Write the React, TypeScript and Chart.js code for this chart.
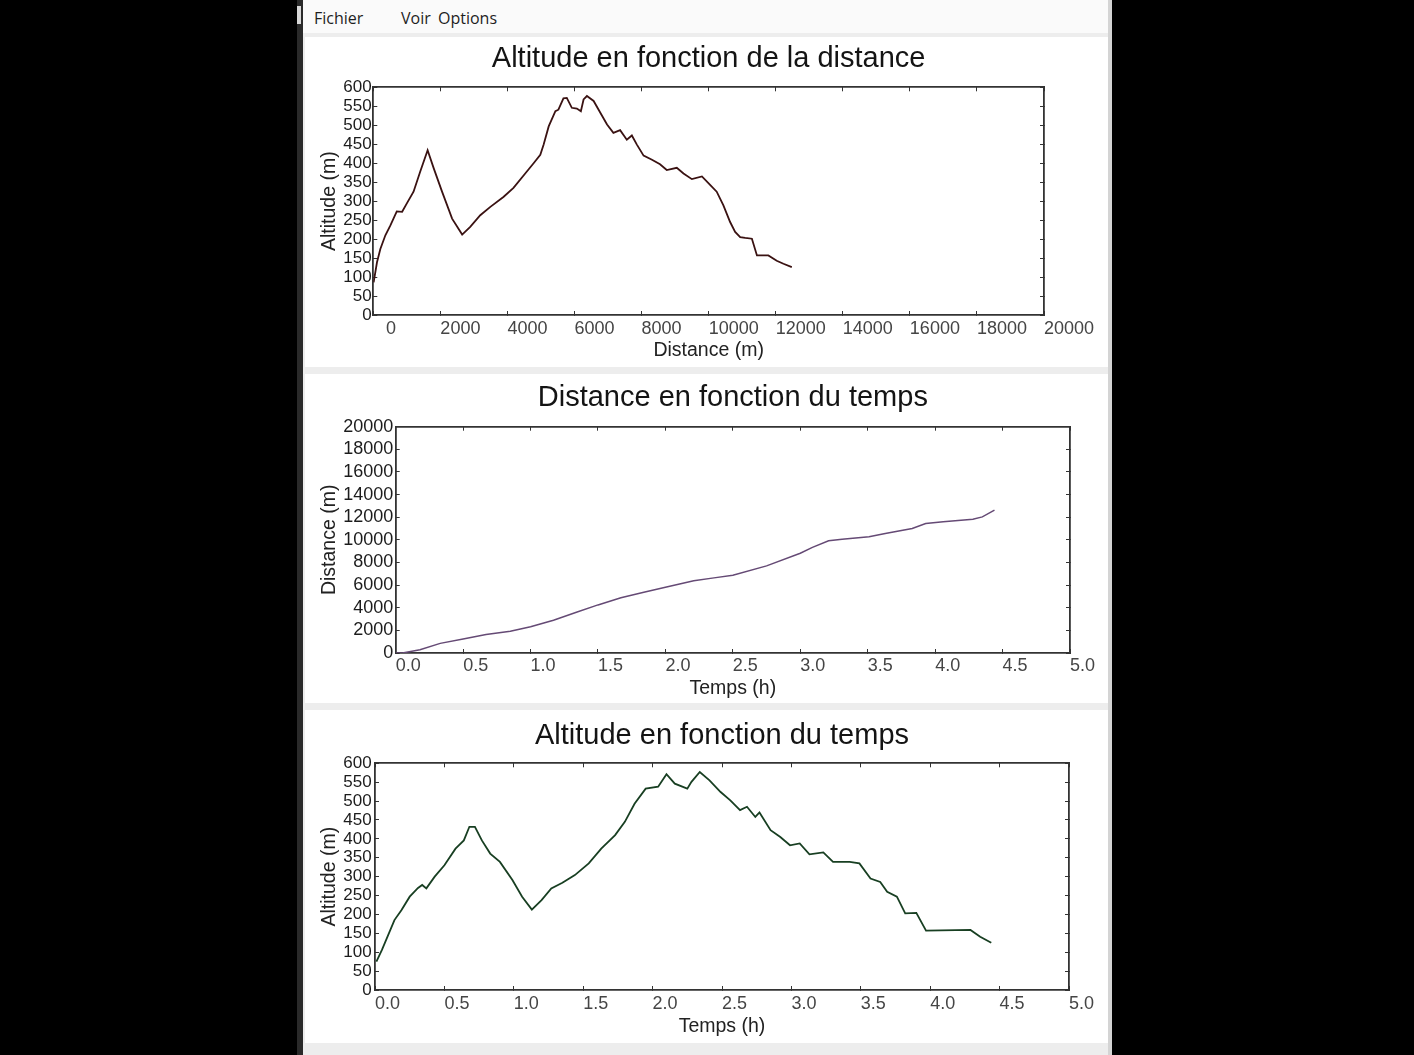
import React, { useEffect, useRef } from 'react';
import { Chart, registerables } from 'chart.js';

Chart.register(...registerables);

const FONT = '"Liberation Sans", Arial, Helvetica, sans-serif';

// ---------- Chart 1 : Altitude en fonction de la distance ----------
const distance1 = [10, 110, 210, 360, 510, 700, 860, 1000, 1200, 1400, 1620, 1800, 2050, 2350, 2650, 2890, 3190, 3490, 3880, 4180, 4530, 4780, 4980, 5080, 5230, 5430, 5520, 5670, 5770, 5920, 6070, 6190, 6270, 6370, 6570, 6770, 6970, 7160, 7360, 7560, 7710, 7860, 8060, 8310, 8550, 8750, 9050, 9250, 9500, 9800, 10000, 10240, 10440, 10640, 10790, 10940, 11090, 11290, 11440, 11780, 12030, 12230, 12480];
const altitude1 = [86, 139, 174, 210, 236, 273, 272, 294, 325, 378, 434, 387, 325, 254, 212, 232, 263, 285, 311, 335, 373, 400, 422, 449, 497, 537, 541, 571, 572, 546, 544, 537, 568, 577, 564, 533, 502, 480, 487, 462, 473, 449, 420, 409, 397, 382, 388, 373, 358, 365, 347, 325, 289, 245, 219, 205, 203, 201, 157, 157, 143, 135, 126];
const distanceTickLabels1 = ['\u2002\u20090', '2000', '4000', '6000', '8000', '10000', '12000', '14000', '16000', '18000', '20000'];

// ---------- Chart 2 : Distance en fonction du temps ----------
const time2 = [0.0, 0.05, 0.18, 0.33, 0.5, 0.67, 0.85, 1.0, 1.17, 1.34, 1.5, 1.67, 1.84, 2.0, 2.21, 2.36, 2.5, 2.75, 3.0, 3.09, 3.21, 3.31, 3.51, 3.63, 3.83, 3.93, 4.06, 4.28, 4.35, 4.44];
const distance2 = [0, 0, 290, 850, 1230, 1630, 1920, 2320, 2900, 3600, 4250, 4880, 5370, 5820, 6380, 6640, 6870, 7700, 8820, 9330, 9920, 10050, 10270, 10570, 11000, 11440, 11600, 11820, 12030, 12620];

// ---------- Chart 3 : Altitude en fonction du temps ----------
const time3 = [0.01, 0.05, 0.1, 0.14, 0.19, 0.25, 0.31, 0.34, 0.37, 0.43, 0.5, 0.58, 0.64, 0.68, 0.72, 0.77, 0.83, 0.9, 0.99, 1.06, 1.13, 1.2, 1.27, 1.35, 1.44, 1.54, 1.63, 1.73, 1.8, 1.87, 1.95, 2.04, 2.1, 2.16, 2.25, 2.28, 2.34, 2.41, 2.49, 2.56, 2.63, 2.68, 2.74, 2.77, 2.85, 2.92, 2.99, 3.06, 3.13, 3.23, 3.3, 3.42, 3.49, 3.57, 3.64, 3.69, 3.76, 3.82, 3.9, 3.97, 4.29, 4.36, 4.44];
const altitude3 = [75, 106, 150, 185, 211, 247, 270, 278, 269, 300, 330, 374, 396, 432, 432, 396, 361, 339, 291, 247, 213, 238, 269, 284, 304, 335, 374, 410, 445, 493, 533, 538, 571, 546, 533, 551, 577, 555, 524, 502, 476, 485, 458, 470, 423, 405, 383, 388, 359, 364, 339, 339, 335, 295, 286, 260, 247, 203, 204, 157, 159, 141, 125];

const menuItems = ['Fichier', 'Voir', 'Options'];

type Panel = {
  title: string;
  xs: number[];
  ys: number[];
  color: string;
  lineWidth: number;
  xTitle: string;
  yTitle: string;
  xMin: number; xMax: number; xStep: number;
  yMin: number; yMax: number; yStep: number;
  xLabel: (v: number, i: number) => string;
  yLabel: (v: number) => string;
  yTickSize: number;
  // geometry
  w: number; h: number;
  padRight: number;
  titleTop: number; titleBottom: number;
  yAxisWidth: number; yTickPad: number; yTitlePad: number;
  xAxisHeight: number; xTickPad: number; xTitlePad: number;
};

const AXIS = '#333333';

function makeConfig(p: Panel): any {
  const grid = { display: true, drawOnChartArea: false, drawTicks: true, tickLength: -4, color: AXIS, lineWidth: 1 };
  const border = { display: true, color: AXIS, width: 1.8 };
  return {
    type: 'line',
    data: {
      datasets: [{
        data: p.xs.map((x, i) => ({ x, y: p.ys[i] })),
        borderColor: p.color,
        borderWidth: p.lineWidth,
        pointRadius: 0,
        tension: 0,
        fill: false,
      }],
    },
    options: {
      responsive: false,
      animation: false,
      events: [],
      layout: { padding: { left: 0, right: p.padRight, top: 0, bottom: 0 } },
      plugins: {
        legend: { display: false },
        tooltip: { enabled: false },
        title: {
          display: true,
          text: p.title,
          fullSize: false,
          color: '#141414',
          font: { family: FONT, size: 29, weight: 'normal' },
          padding: { top: p.titleTop, bottom: p.titleBottom },
        },
      },
      scales: {
        x: {
          type: 'linear',
          position: 'bottom',
          min: p.xMin, max: p.xMax,
          afterFit: (s: any) => { s.height = p.xAxisHeight; },
          ticks: {
            stepSize: p.xStep, autoSkip: false, maxRotation: 0, minRotation: 0,
            align: 'start', padding: p.xTickPad, color: '#454545',
            font: { family: FONT, size: 18 },
            callback: (v: number, i: number) => p.xLabel(v, i),
          },
          grid, border,
          title: {
            display: true, text: p.xTitle, color: '#222',
            font: { family: FONT, size: 19.5 },
            padding: { top: 0, bottom: p.xTitlePad },
          },
        },
        x2: {
          type: 'linear',
          position: 'top',
          min: p.xMin, max: p.xMax,
          afterFit: (s: any) => { s.height = 0; },
          ticks: { stepSize: p.xStep, display: false },
          grid, border,
        },
        y: {
          type: 'linear',
          position: 'left',
          min: p.yMin, max: p.yMax,
          afterFit: (s: any) => { s.width = p.yAxisWidth; },
          ticks: {
            stepSize: p.yStep, autoSkip: false, padding: p.yTickPad, color: '#1c1c1c',
            font: { family: FONT, size: p.yTickSize },
            callback: (v: number) => p.yLabel(v),
          },
          grid, border,
          title: {
            display: true, text: p.yTitle, color: '#222',
            font: { family: FONT, size: 19.5 },
            padding: { top: p.yTitlePad, bottom: 0 },
          },
        },
        y2: {
          type: 'linear',
          position: 'right',
          min: p.yMin, max: p.yMax,
          afterFit: (s: any) => { s.width = 0; },
          ticks: { stepSize: p.yStep, display: false },
          grid, border,
        },
      },
    },
  };
}

const panels: { top: number; spec: Panel }[] = [
  {
    top: 37,
    spec: {
      title: 'Altitude en fonction de la distance',
      xs: distance1, ys: altitude1, color: '#3a1212', lineWidth: 1.8,
      xTitle: 'Distance (m)', yTitle: 'Altitude (m)',
      xMin: 0, xMax: 20000, xStep: 2000,
      yMin: 0, yMax: 600, yStep: 50,
      xLabel: (_v, i) => distanceTickLabels1[i] ?? '',
      yLabel: (v) => String(v),
      yTickSize: 17,
      w: 803, h: 330, padRight: 64,
      titleTop: 5, titleBottom: 10.5,
      yAxisWidth: 68.3, yTickPad: 5.6, yTitlePad: 13,
      xAxisHeight: 52, xTickPad: 6.9, xTitlePad: 4.5,
    },
  },
  {
    top: 374,
    spec: {
      title: 'Distance en fonction du temps',
      xs: time2, ys: distance2, color: '#654a75', lineWidth: 1.5,
      xTitle: 'Temps (h)', yTitle: 'Distance (m)',
      xMin: 0, xMax: 5, xStep: 0.5,
      yMin: 0, yMax: 20000, yStep: 2000,
      xLabel: (v) => v.toFixed(1),
      yLabel: (v) => String(v),
      yTickSize: 18,
      w: 803, h: 329, padRight: 38,
      titleTop: 6.2, titleBottom: 11.7,
      yAxisWidth: 90.7, yTickPad: 6.4, yTitlePad: 13,
      xAxisHeight: 50, xTickPad: 6.6, xTitlePad: 2.3,
    },
  },
  {
    top: 710,
    spec: {
      title: 'Altitude en fonction du temps',
      xs: time3, ys: altitude3, color: '#183f22', lineWidth: 1.8,
      xTitle: 'Temps (h)', yTitle: 'Altitude (m)',
      xMin: 0, xMax: 5, xStep: 0.5,
      yMin: 0, yMax: 600, yStep: 50,
      xLabel: (v) => v.toFixed(1),
      yLabel: (v) => String(v),
      yTickSize: 17,
      w: 803, h: 333, padRight: 39,
      titleTop: 8.5, titleBottom: 10,
      yAxisWidth: 70, yTickPad: 7.3, yTitlePad: 13,
      xAxisHeight: 53, xTickPad: 7.4, xTitlePad: 4.3,
    },
  },
];

function ChartPanel({ spec, top }: { spec: Panel; top: number }) {
  const ref = useRef<HTMLCanvasElement | null>(null);
  useEffect(() => {
    if (!ref.current) return;
    const chart = new Chart(ref.current, makeConfig(spec));
    return () => chart.destroy();
  }, [spec]);
  return (
    <div style={{ position: 'absolute', left: 305, top, width: spec.w, height: spec.h, background: '#ffffff' }}>
      <canvas ref={ref} width={spec.w} height={spec.h} style={{ display: 'block', width: spec.w, height: spec.h }} />
    </div>
  );
}

const menuX = [314, 401, 438];

export default function App() {
  return (
    <div style={{ position: 'absolute', left: 0, top: 0, width: 1414, height: 1055, background: '#000', overflow: 'hidden' }}>
      {/* window */}
      <div style={{ position: 'absolute', left: 297, top: 0, width: 815, height: 1055, background: '#ededed' }} />
      <div style={{ position: 'absolute', left: 297, top: 0, width: 6, height: 1055, background: '#2a2a2a' }} />
      <div style={{ position: 'absolute', left: 297, top: 6, width: 4, height: 18, background: '#d8d8d8' }} />
      <div style={{ position: 'absolute', left: 1108, top: 0, width: 4, height: 1055, background: '#d4d4d4' }} />
      {/* menu bar */}
      <div style={{ position: 'absolute', left: 303, top: 0, width: 805, height: 33, background: '#fafafa' }} />
      {menuItems.map((m, i) => (
        <div key={m} style={{ position: 'absolute', left: menuX[i], top: 7, fontFamily: '"Open Sans", "Noto Sans", sans-serif', fontSize: 16, lineHeight: '22px', color: '#1e1e1e', whiteSpace: 'nowrap' }}>{m}</div>
      ))}
      {panels.map((p, i) => (
        <ChartPanel key={i} spec={p.spec} top={p.top} />
      ))}
    </div>
  );
}
